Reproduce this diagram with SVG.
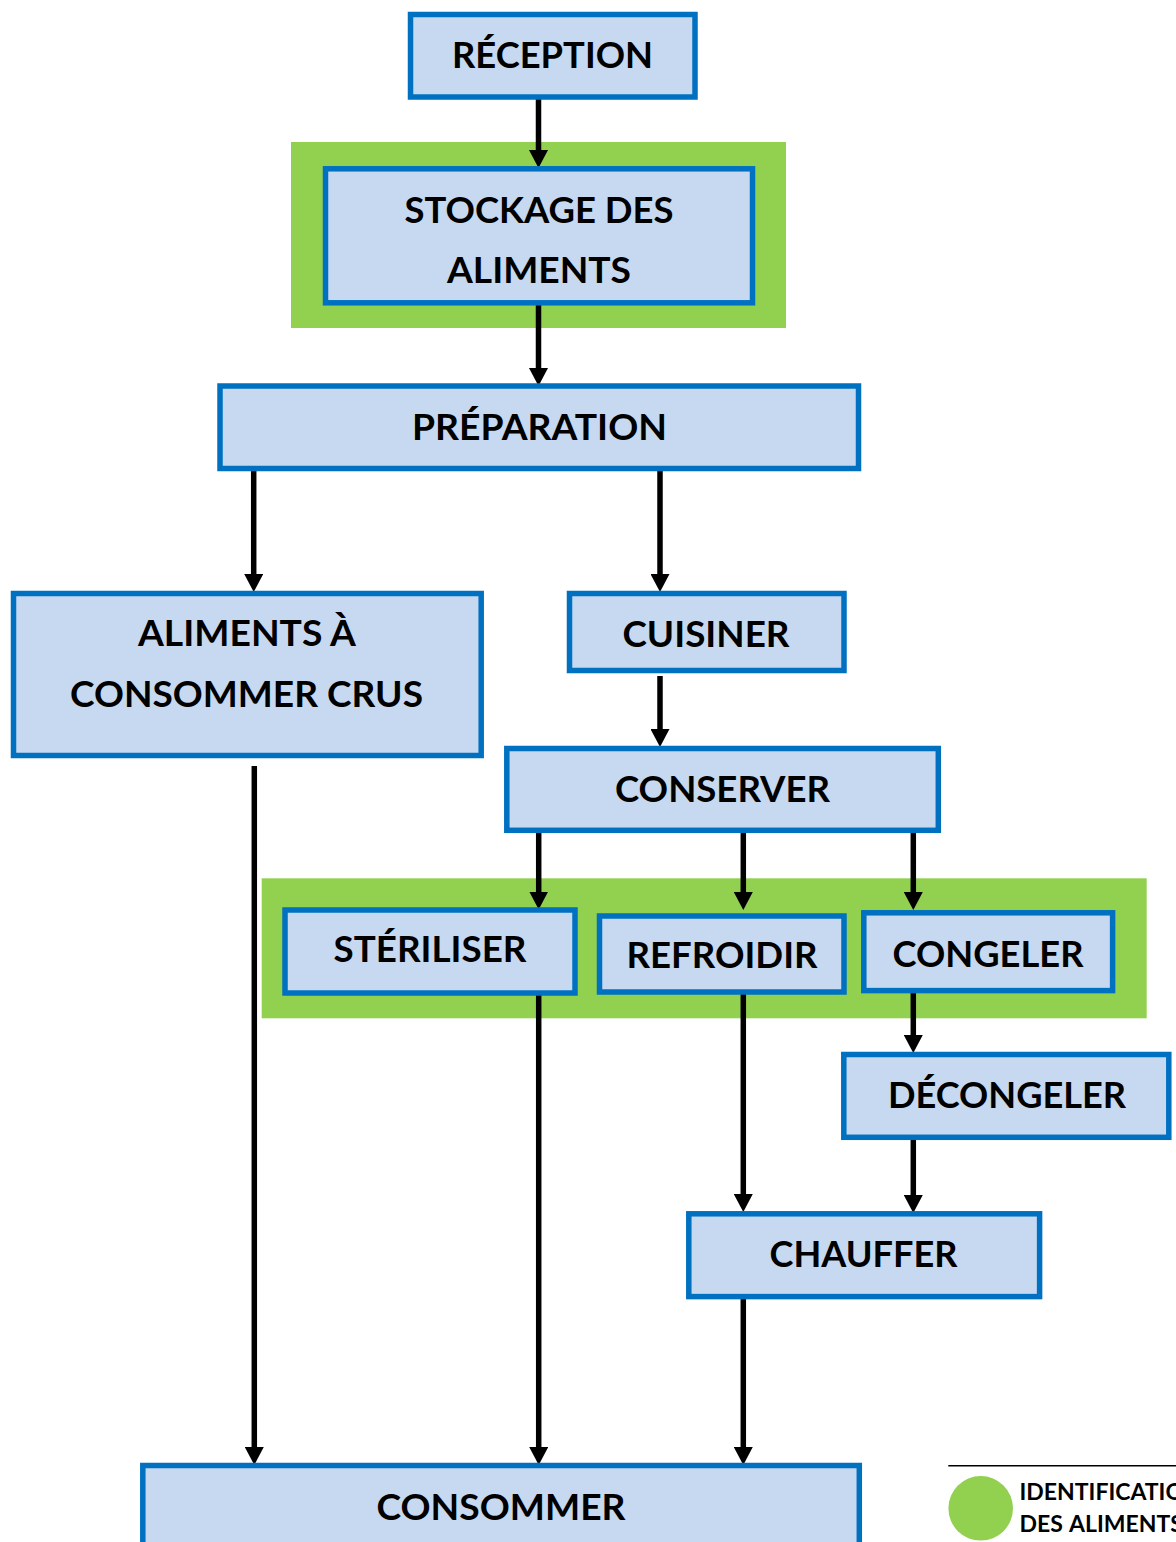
<svg xmlns="http://www.w3.org/2000/svg" width="1176" height="1542" viewBox="0 0 1176 1542">
  <style>
    .box { fill: #C6D9F1; stroke: #0070C0; stroke-width: 5.5; }
    .zone { fill: #92D050; }
    .lbl { font-family: Lato, "Liberation Sans", sans-serif; font-weight: bold; font-size: 37px; fill: #000; }
    .leg { font-family: Lato, "Liberation Sans", sans-serif; font-weight: bold; font-size: 23px; fill: #000; }
    .flow { stroke: #000; stroke-width: 5.5; fill: none; marker-end: url(#head); }
  </style>
  <defs>
    <marker id="head" markerUnits="userSpaceOnUse" markerWidth="18" markerHeight="19" refX="6" refY="9.5" orient="auto" viewBox="0 0 18 19">
      <path d="M0,0 L18,9.5 L0,19 Z" fill="#000"/>
    </marker>
  </defs>

  <rect width="1176" height="1542" fill="#FFFFFF"/>

  <!-- highlighted zones -->
  <g id="zone-stockage">
    <rect class="zone" x="291" y="142" width="495" height="186"/>
  </g>
  <g id="zone-conservation">
    <rect class="zone" x="261.7" y="878.3" width="885" height="140"/>
  </g>

  <!-- connectors -->
  <g id="connectors">
    <line class="flow" x1="538.5" y1="97" x2="538.5" y2="156"/>
    <line class="flow" x1="538.5" y1="303" x2="538.5" y2="374"/>
    <line class="flow" x1="253.7" y1="469" x2="253.7" y2="580"/>
    <line class="flow" x1="660" y1="469" x2="660" y2="580"/>
    <line class="flow" x1="660" y1="676" x2="660" y2="735"/>
    <line class="flow" x1="254.3" y1="766" x2="254.3" y2="1453"/>
    <line class="flow" x1="538.7" y1="831" x2="538.7" y2="897.5"/>
    <line class="flow" x1="743.3" y1="831" x2="743.3" y2="898"/>
    <line class="flow" x1="913.3" y1="831" x2="913.3" y2="898"/>
    <line class="flow" x1="538.7" y1="993" x2="538.7" y2="1453"/>
    <line class="flow" x1="743.3" y1="993" x2="743.3" y2="1200"/>
    <line class="flow" x1="913.3" y1="992" x2="913.3" y2="1041"/>
    <line class="flow" x1="913.3" y1="1137" x2="913.3" y2="1201"/>
    <line class="flow" x1="743.3" y1="1297" x2="743.3" y2="1453"/>
  </g>

  <!-- steps -->
  <g id="reception">
    <rect class="box" x="410.5" y="14.5" width="284.5" height="82.5"/>
    <text class="lbl" x="452" y="68.3" textLength="201" lengthAdjust="spacingAndGlyphs">RÉCEPTION</text>
  </g>
  <g id="stockage">
    <rect class="box" x="325.5" y="168.8" width="427" height="134"/>
    <text class="lbl" x="404.5" y="222.7" textLength="269" lengthAdjust="spacingAndGlyphs">STOCKAGE DES</text>
    <text class="lbl" x="447" y="282.7" textLength="184" lengthAdjust="spacingAndGlyphs">ALIMENTS</text>
  </g>
  <g id="preparation">
    <rect class="box" x="220" y="386" width="638.5" height="82.5"/>
    <text class="lbl" x="412" y="440" textLength="255" lengthAdjust="spacingAndGlyphs">PRÉPARATION</text>
  </g>
  <g id="aliments-crus">
    <rect class="box" x="13.5" y="593.5" width="467.7" height="162"/>
    <text class="lbl" x="138" y="646" textLength="218" lengthAdjust="spacingAndGlyphs">ALIMENTS À</text>
    <text class="lbl" x="70" y="706.7" textLength="353" lengthAdjust="spacingAndGlyphs">CONSOMMER CRUS</text>
  </g>
  <g id="cuisiner">
    <rect class="box" x="569.5" y="593.5" width="274.5" height="77"/>
    <text class="lbl" x="622.5" y="646.7" textLength="167" lengthAdjust="spacingAndGlyphs">CUISINER</text>
  </g>
  <g id="conserver">
    <rect class="box" x="506.8" y="748.5" width="431.5" height="81.8"/>
    <text class="lbl" x="615" y="801.7" textLength="215" lengthAdjust="spacingAndGlyphs">CONSERVER</text>
  </g>
  <g id="steriliser">
    <rect class="box" x="285" y="910" width="290" height="83"/>
    <text class="lbl" x="333.5" y="961.7" textLength="193" lengthAdjust="spacingAndGlyphs">STÉRILISER</text>
  </g>
  <g id="refroidir">
    <rect class="box" x="599.5" y="916" width="244.5" height="76"/>
    <text class="lbl" x="626.5" y="968.3" textLength="191" lengthAdjust="spacingAndGlyphs">REFROIDIR</text>
  </g>
  <g id="congeler">
    <rect class="box" x="863.8" y="912.8" width="248.8" height="77.8"/>
    <text class="lbl" x="892.5" y="966.7" textLength="191" lengthAdjust="spacingAndGlyphs">CONGELER</text>
  </g>
  <g id="decongeler">
    <rect class="box" x="843.8" y="1054.5" width="325" height="82.8"/>
    <text class="lbl" x="888" y="1108.3" textLength="238" lengthAdjust="spacingAndGlyphs">DÉCONGELER</text>
  </g>
  <g id="chauffer">
    <rect class="box" x="688.8" y="1213.8" width="350.8" height="82.8"/>
    <text class="lbl" x="769.5" y="1267.3" textLength="188" lengthAdjust="spacingAndGlyphs">CHAUFFER</text>
  </g>
  <g id="consommer">
    <rect class="box" x="142.8" y="1465.5" width="716.5" height="100"/>
    <text class="lbl" x="376.5" y="1520" textLength="249" lengthAdjust="spacingAndGlyphs">CONSOMMER</text>
  </g>

  <!-- legend -->
  <g id="legend">
    <line x1="948.3" y1="1465.7" x2="1176" y2="1465.7" stroke="#000" stroke-width="1.5"/>
    <circle cx="980.7" cy="1508.3" r="32.3" fill="#92D050"/>
    <text class="leg" x="1019.5" y="1500">IDENTIFICATION</text>
    <text class="leg" y="1531.7"><tspan x="1019.5">DES</tspan><tspan x="1069">ALIMENTS</tspan></text>
  </g>
</svg>
